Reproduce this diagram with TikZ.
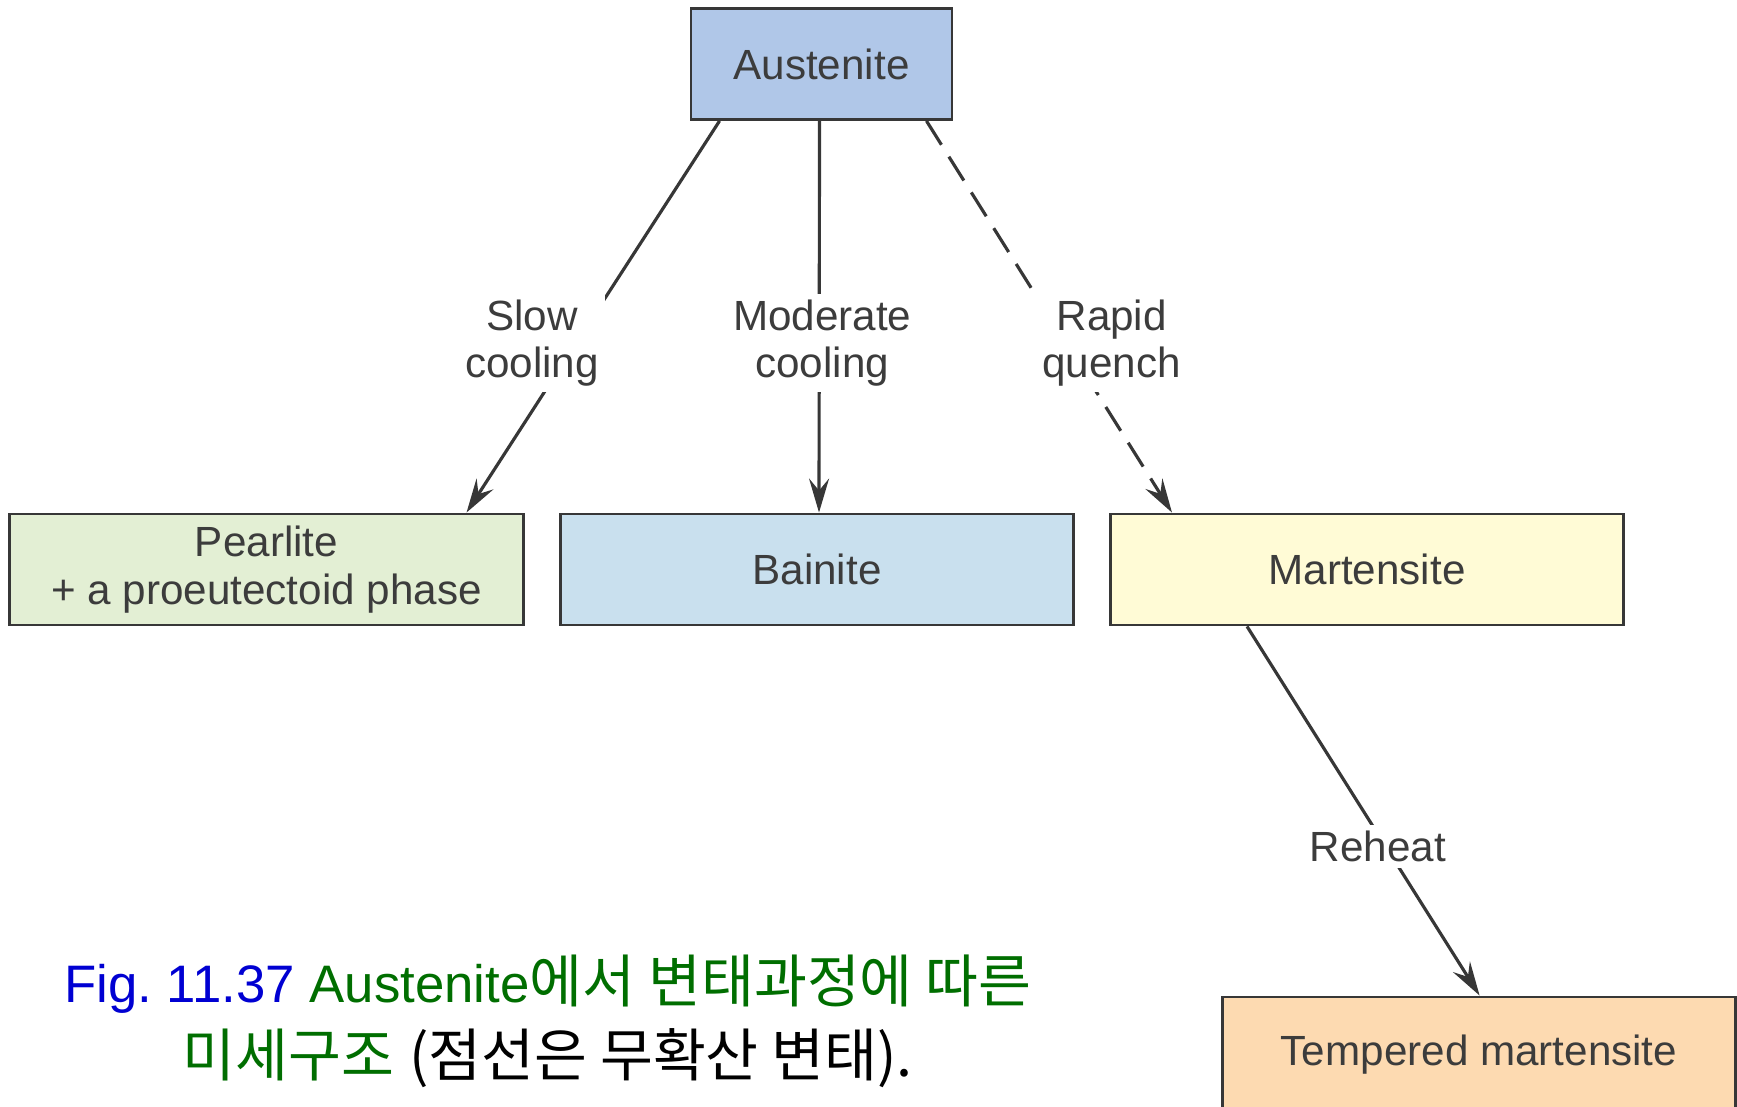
\documentclass[tikz,border=0pt]{standalone}
\usepackage{fontspec}
\setmainfont{Liberation Sans}
\newfontfamily\krfont[Scale=1.09]{Noto Sans CJK KR}
\newcommand{\krtext}[1]{{\krfont #1}}
\usetikzlibrary{arrows.meta, positioning}
\definecolor{ausblue}{RGB}{176,199,232}
\definecolor{pearlgreen}{RGB}{227,239,212}
\definecolor{bainblue}{RGB}{201,224,238}
\definecolor{martyellow}{RGB}{255,251,214}
\definecolor{temporange}{RGB}{253,218,177}
\definecolor{linegray}{RGB}{55,55,55}
\definecolor{txtgray}{RGB}{60,60,60}
\definecolor{figblue}{RGB}{0,0,210}
\definecolor{figgreen}{RGB}{0,110,0}

\begin{document}
\begin{tikzpicture}[x=0.01cm, y=-0.01cm]
\tikzset{box/.style = {draw=linegray, line width=0.8pt, minimum width=5.13cm, minimum height=1.11cm, inner sep=0pt, align=center, text=txtgray, font=\fontsize{12}{13.6}\selectfont}}
\tikzset{flow/.style = {draw=linegray, line width=0.9pt, -{Stealth[length=0.34cm, width=0.2cm, inset=0.12cm]}}}
\tikzset{lbl/.style = {fill=white, inner sep=0.06cm, align=center, text=txtgray, font=\fontsize{12}{13.4}\selectfont}}
\useasboundingbox (0,0) rectangle (1737,1107);
% boxes
\node[box, fill=ausblue, minimum width=2.61cm] (aus) at (821.5,64) {Austenite};
\node[box, fill=pearlgreen] (pea) at (266.5,569.5) {Pearlite\\+ a proeutectoid phase};
\node[box, fill=bainblue] (bai) at (817,569.5) {Bainite};
\node[box, fill=martyellow] (mar) at (1367,569.5) {Martensite};
\node[box, fill=temporange, minimum width=5.12cm, minimum height=1.16cm] (tem) at (1479,1055) {\raisebox{0.03cm}{Tempered martensite}};
%arrows
\draw[flow] ([xshift=0.3cm]aus.south west) -- node[lbl, pos=0.567, xshift=-0.44cm] {Slow\\cooling} ([xshift=-0.58cm]pea.north east);
\draw[flow] ([xshift=-0.02cm]aus.south) -- node[lbl, pos=0.567, xshift=0.03cm] {Moderate\\cooling} ([xshift=0.02cm]bai.north);
\draw[flow, dash pattern=on 8pt off 4pt] ([xshift=-0.27cm]aus.south east) -- node[lbl, pos=0.567, xshift=0.46cm] {Rapid\\quench} ([xshift=0.63cm]mar.north west);
\draw[flow] ([xshift=1.38cm]mar.south west) -- node[lbl, pos=0.597, xshift=-0.08cm] {Reheat} ([xshift=2.58cm]tem.north west);
% caption
\node[align=center, font=\fontsize{15}{21}\selectfont] (cap) at (548,1021)
  {{\color{figblue}Fig.\ 11.37} \textcolor{figgreen}{Austenite\krtext{에서 변태과정에 따른}}\\
   \textcolor{figgreen}{\krtext{미세구조}} \krtext{(점선은 무확산 변태).}};
\end{tikzpicture}
\end{document}
